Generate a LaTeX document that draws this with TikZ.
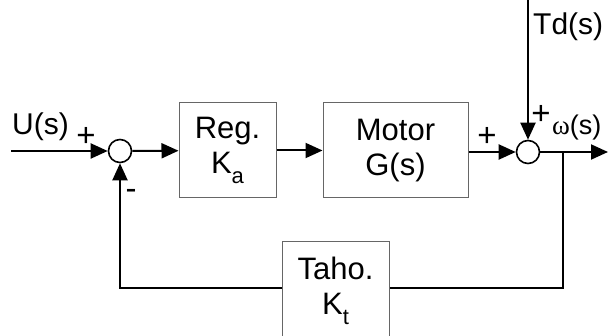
\documentclass[tikz,border=0pt]{standalone}
\usepackage{fontspec}
\setmainfont{Liberation Sans}
\newfontfamily\omegafont{Liberation Serif}
\usetikzlibrary{arrows.meta}
\tikzset{
  blk/.style={draw=black!60, line width=1pt, rectangle, inner sep=0pt, align=center,
    font=\fontsize{31}{35}\selectfont},
  sumc/.style={draw=black, line width=1.6pt, circle, minimum size=23pt, inner sep=0pt},
  conn/.style={line width=2pt, -{Triangle[length=17pt,width=15pt]}},
  wire/.style={line width=2pt},
  lbl/.style={inner sep=0pt, anchor=base west, font=\fontsize{30}{35}\selectfont},
  sgn/.style={inner sep=0pt, font=\fontsize{33}{33}\selectfont},
}
\newcommand{\subx}[1]{\raisebox{-10pt}{\fontsize{22}{22}\selectfont #1}}
\begin{document}
\begin{tikzpicture}[x=1pt,y=-1pt]
\useasboundingbox (0,0) rectangle (608,336);
% sums
\node[sumc] (s1) at (120,151) {};
\node[sumc] (s2) at (528,152) {};
% blocks
\node[blk, minimum width=97pt, minimum height=95pt] (reg) at (227.5,150.5) {Reg.\\K\subx{a}};
\node[blk, minimum width=145pt, minimum height=95pt] (mot) at (395.5,150.5) {Motor\\G(s)};
\node[blk, minimum width=107pt, minimum height=98pt] (taho) at (335.5,291) {Taho.\\K\subx{t}};
% coordinates
\coordinate (in) at (11,151);
\coordinate (tdtop) at (528,-2);
\coordinate (out) at (608,152);
\coordinate (br) at (563,152);
\coordinate (brd) at (563,288);
\coordinate (fbl) at (120,288);
% connectors
\draw[conn] (in) -- (s1);
\draw[conn] (s1) -- (reg);
\draw[conn] (reg) -- (mot);
\draw[conn] (mot.east |- s2) -- (s2);
\draw[conn] (tdtop) -- (s2);
\draw[conn] (s2) -- (out);
\draw[wire] (br) -- (brd) -- (taho.east |- brd);
\draw[conn] (taho.west |- fbl) -- (fbl) -- (s1);
% labels
\node[lbl] (lu) at (12,135) {U(s)};
\node[lbl] (ltd) at (533,35) {Td(s)};
\node[lbl, font=\fontsize{27}{30}\selectfont] (lw) at (552,135) {{\omegafont ω}(s)};
\node[sgn] (p1) at (86,137) {+};
\node[sgn] (p2) at (487,137) {+};
\node[sgn] (p3) at (541,115) {+};
\node[sgn] (m1) at (131,194) {-};
\end{tikzpicture}
\end{document}
